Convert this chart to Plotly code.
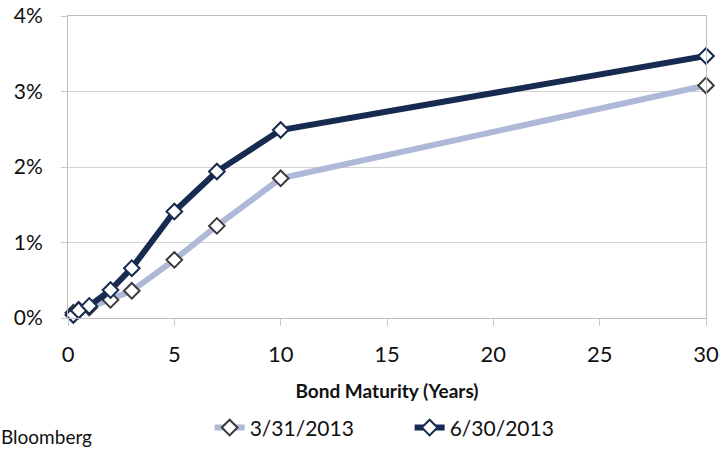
import plotly.graph_objects as go

# Treasury yield curve, maturities in years and yields in percent
maturity_years = [0.25, 0.5, 1, 2, 3, 5, 7, 10, 30]
yield_mar_2013 = [0.07, 0.11, 0.14, 0.24, 0.36, 0.77, 1.22, 1.85, 3.08]
yield_jun_2013 = [0.04, 0.10, 0.16, 0.37, 0.66, 1.41, 1.94, 2.49, 3.47]
series_names = ["3/31/2013", "6/30/2013"]

FONT = "Lato"
LIGHT = "#aeb9d8"
DARK = "#172a4f"

fig = go.Figure()
fig.add_trace(go.Scatter(
    x=maturity_years, y=yield_mar_2013, name=series_names[0],
    mode="lines+markers", cliponaxis=False,
    line=dict(color=LIGHT, width=6),
    marker=dict(symbol="diamond", size=12, color="white",
                line=dict(color="#3a3a3a", width=2)),
))
fig.add_trace(go.Scatter(
    x=maturity_years, y=yield_jun_2013, name=series_names[1],
    mode="lines+markers", cliponaxis=False,
    line=dict(color=DARK, width=6),
    marker=dict(symbol="diamond", size=12, color="white",
                line=dict(color=DARK, width=2)),
))

fig.update_layout(
    width=722, height=449,
    margin=dict(l=68, r=16, t=16, b=131, autoexpand=False),
    paper_bgcolor="white", plot_bgcolor="white",
    font=dict(family=FONT, color="#111111"),
    showlegend=True,
    legend=dict(orientation="h", x=0.222, xanchor="left", y=-0.364, yanchor="middle",
                font=dict(family=FONT, size=21, color="#111111"),
                entrywidth=155, entrywidthmode="pixels",
                tracegroupgap=0, traceorder="normal"),
    xaxis=dict(
        range=[0, 30], dtick=5, tick0=0, automargin=False,
        showgrid=False, zeroline=False,
        showline=True, linecolor="#bdbdbd", linewidth=1, mirror=True,
        ticks="outside", ticklen=7, tickcolor="#c8c8c8",
        tickfont=dict(family=FONT, size=22, color="#111111"),
        ticklabelstandoff=10,
        title=dict(text="<b>Bond Maturity (Years)</b>",
                   font=dict(family=FONT, size=19, color="#111111"), standoff=18),
    ),
    yaxis=dict(
        range=[0, 4], dtick=1, tick0=0, ticksuffix="%", automargin=False,
        showgrid=True, gridcolor="#d4d4d4", gridwidth=1, zeroline=False,
        showline=True, linecolor="#bdbdbd", linewidth=1, mirror=True,
        ticks="outside", ticklen=6, tickcolor="#c8c8c8",
        tickfont=dict(family=FONT, size=21, color="#111111"),
        ticklabelstandoff=14,
    ),
)

fig.add_annotation(
    text="Bloomberg", xref="paper", yref="paper",
    x=-0.108, y=-0.394, xanchor="left", yanchor="middle", showarrow=False,
    font=dict(family=FONT, size=19, color="#111111"),
)

fig.write_html("out.html")
